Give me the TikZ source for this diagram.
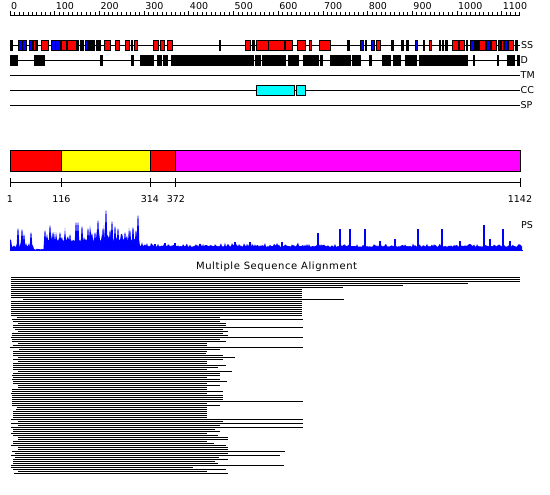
\documentclass[tikz,border=0pt]{standalone}
\usepackage{fontspec}
\setmainfont{DejaVu Sans}
\definecolor{pred}{RGB}{255,0,0}
\definecolor{pblue}{RGB}{0,0,255}
\definecolor{pcyan}{RGB}{0,255,255}
\definecolor{pyellow}{RGB}{255,255,0}
\definecolor{pmag}{RGB}{255,0,255}
\begin{document}
\begin{tikzpicture}[x=1pt,y=-1pt,
  lbl/.style={font=\fontsize{9.5}{11}\selectfont, inner sep=0pt},
  ttl/.style={font=\fontsize{10}{12}\selectfont\addfontfeature{LetterSpace=6}, inner sep=0pt},
  trk/.style={line width=0.9pt, draw=black},
  hbox/.style={draw=black, line width=0.7pt, fill=pred},
  ebox/.style={draw=black, line width=0.7pt, fill=pblue},
  kbox/.style={draw=black, line width=0.7pt, fill=black},
  cbox/.style={draw=black, line width=0.8pt, fill=pcyan},
  dbox/.style={draw=black, line width=0.8pt},
  aln/.style={draw=black, line width=1pt},
  declare function={
    pos(\p)=10+(\p-1)*0.446976;
    psh(\x)=(\x<11.5)*11 + and(\x>11.5,\x<33.5)*(4+9*rnd*rnd) + and(\x>33.5,\x<44.5)*(1+rnd)
      + and(\x>44.5,\x<139.5)*(9+18*rnd*rnd) + (\x>139.5)*(4+4.5*rnd*rnd);
  }]
\useasboundingbox (0,0) rectangle (550,495);
\fill[white] (0,0) rectangle (550,495);
\pgfmathsetseed{11}

% ---- top ruler
\draw[line width=0.9pt] (10,15) -- (520,15);
\foreach \i in {0,...,114} \draw[line width=0.7pt] ({10+\i*4.4698},15) -- ++(0,-2.6);
\foreach \v in {0,100,...,1100} {
  \draw[line width=0.7pt] ({10+\v*0.44698},15) -- ++(0,-4);
  \node[lbl, anchor=base west] (r\v) at ({10+\v*0.44698+1},10) {\v};
}

% ---- tracks
\draw[trk] (10,45) -- (520,45);
\draw[trk] (10,60) -- (517,60);
\draw[trk] (10,75) -- (520,75);
\draw[trk] (10,90) -- (520,90);
\draw[trk] (10,105) -- (520,105);

% SS
\foreach \a/\b in {10.7/12, 36/37.3, 80/81, 82/83, 88.7/90, 91.3/92.7, 93.7/94.5, 96/100,
  219.3/220.7, 252.3/254, 347.7/349, 365/366, 391.7/393, 401.7/403, 406.7/408, 423.3/424.7,
  439.3/440.3, 442.3/443.3, 445/447.3, 466.7/467.7, 475/476, 477/478.3, 515/517.3}
  \filldraw[kbox] (\a,40) rectangle (\b,50);
\foreach \a/\b in {33.3/35.3, 41.3/48.3, 61/66, 67.3/76, 104.7/110, 115.3/119.3, 125/129.3,
  131.3/132.7, 134/137.3, 153.3/158.7, 160.3/164.7, 167.3/172.7, 245/250.7, 256.7/268, 268/284,
  285/292, 297.3/305.3, 309.3/311.3, 319.3/330.7, 376.7/380, 429/431.3, 452.7/458.3, 459/464,
  479/485.3, 491/496.7, 501/503.3, 508.7/513.3}
  \filldraw[hbox] (\a,40) rectangle (\b,50);
\foreach \a/\b in {18.5/22.3, 22.3/26, 29.3/32.7, 51.7/55.8, 55.8/60, 77/78.7, 85/87.3,
  360.7/363.3, 371/374.3, 415.7/417.3, 470/474.7, 486.7/490, 498.3/500.7, 504.3/507.3}
  \filldraw[ebox] (\a,40) rectangle (\b,50);

% D
\foreach \a/\b in {10/17, 34/44, 100/102, 131/133, 140/153, 157/161, 163/167, 171/253, 255/260,
  262/285, 288/298, 303/318, 320/322, 330/350, 352/360, 369/371, 382/390, 393/400, 405/416,
  419/452, 453/467, 473/474, 497/498, 507/514, 517/519}
  \filldraw[kbox] (\a,55) rectangle (\b,65);

% CC
\filldraw[cbox] (256.7,85) rectangle (294,95);
\filldraw[cbox] (296.3,85) rectangle (305.3,95);

\node[lbl, anchor=west] (lss) at (521,45) {SS};
\node[lbl, anchor=west] (ld) at (520.5,60) {D};
\node[lbl, anchor=west] (ltm) at (520.5,75) {TM};
\node[lbl, anchor=west] (lcc) at (520.5,90) {CC};
\node[lbl, anchor=west] (lsp) at (520.5,105) {SP};

% ---- domain bar
\filldraw[dbox, fill=pred] ({pos(1)},150) rectangle ({pos(116)},171);
\filldraw[dbox, fill=pyellow] ({pos(116)},150) rectangle ({pos(314)},171);
\filldraw[dbox, fill=pred] ({pos(314)},150) rectangle ({pos(372)},171);
\filldraw[dbox, fill=pmag] ({pos(372)},150) rectangle ({pos(1142)},171);

\draw[line width=0.9pt] (10,182) -- (520,182);
\foreach \v in {1,116,314,372,1142} {
  \draw[line width=0.8pt] ({pos(\v)},178) -- ({pos(\v)},187);
  \node[lbl] (b\v) at ({pos(\v)},199) {\v};
}

% ---- PS plot
\fill[pblue] (10,250.7) foreach \x in {10,...,522} { -- (\x,{250.7-psh(\x)}) } -- (522,250.7) -- cycle;
\foreach \x/\h in {18/22, 22/21, 24/16, 31/18, 45/20, 50/25, 53/18, 60/18, 65/15, 70/16, 76/28, 78/28, 82/24,
  88/22, 92/17, 95/18, 98/30, 103/22, 106/40, 110/20, 112/29, 115/24, 118/22, 122/16, 125/18, 130/20, 133/23, 136/20,
  138/35}
  \fill[pblue] (\x-1.6,250.7) -- (\x-0.4,250.7-\h) -- (\x+0.4,250.7-\h) -- (\x+1.6,250.7) -- cycle;
\foreach \x/\h in {155/7, 165/8, 175/8, 200/7, 235/9, 250/9, 282/9, 318/18, 340/22, 350/22, 365/22,
  380/10, 395/12, 418/22, 442/22, 460/10, 484/26, 490/12, 503/22, 510/10}
  \fill[pblue] (\x-0.7,250.7) rectangle (\x+0.7,250.7-\h);
\draw[pblue, line width=1pt] (10,250.5) -- (522.5,250.5);
\node[lbl, anchor=west] (lps) at (521,225) {PS};

% ---- MSA
\node[ttl] (msa) at (276.6,266.5) {Multiple Sequence Alignment};
\foreach \s/\e [count=\i from 0] in {10.5/520, 10.5/520, 10.5/520, 11/468, 11/403, 11/343,
  11/302, 11/302, 11/302, 11/302, 11/302, 23/344,
  11/302, 11/302, 11/302, 11/302, 11/302, 11/302, 11/302, 11/302,
  16.7/220, 11.7/302.7, 12.7/220, 18.3/225.7, 13.3/225.7, 12.7/302.7, 15/223.3, 18.3/227.7,
  11.7/223.3, 11.7/227.7, 11/302.7, 12/220, 12/225.7, 18.3/206.7, 12.7/206.7, 10/302.7,
  19.3/220, 13/206.7, 13/205.7, 13/223.3, 18/235.3, 13/223.3, 18/206.7, 13/206.7, 13/225.7,
  13/218.3, 13/206.7, 18/231.7, 13/220, 12/220, 13/206.7, 12/220, 13/226.7, 13/206.7,
  18/220, 18/206.7, 12/206.7, 12/223.3, 11/206.7, 12/223.3, 12/223.3, 12/223.3,
  11.7/302.7, 12/206.7, 12/220, 16.7/206.7, 16/206.7, 13/206.7, 13/206.7, 13/206.7, 13/206.7,
  11/302.7, 18.3/223.3, 11/302.7, 18/220, 11/302.7, 13/215, 13/220, 11/207.3, 13/218.3,
  18/228.3, 18/227.7, 13/206.7, 13/214.3, 11/225.7, 18/228.3, 18/228.3, 12/285, 15/228.3,
  11/280, 15/219.3, 13/228.3, 13/215, 13/218.3, 11/284.3, 11/193.3, 13/225.7, 18/207.3, 14/228.3}
  \draw[aln] (\s,{277.5+2*\i}) -- (\e,{277.5+2*\i});
\end{tikzpicture}
\end{document}
